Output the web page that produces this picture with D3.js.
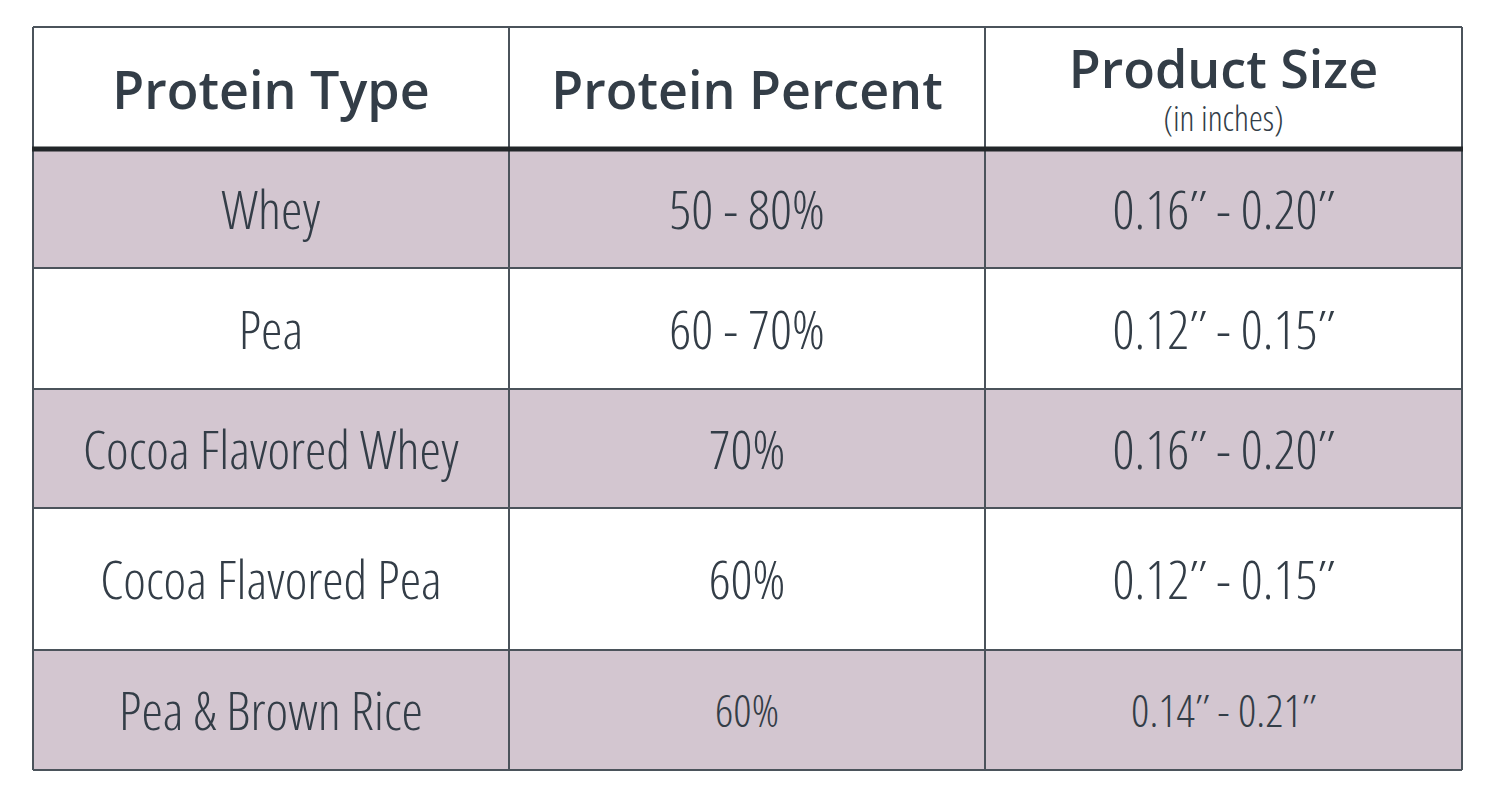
<!DOCTYPE html>
<html>
<head>
<meta charset="utf-8">
<script src="https://cdn.jsdelivr.net/npm/d3@7"></script>
<style>
  body { margin: 0; background: #fff; }
  svg text { font-family: "Open Sans", sans-serif; fill: #333d47; }
  .head { font-weight: 600; }
  .cell { font-weight: 300; font-stretch: condensed; }
</style>
</head>
<body>
<div id="chart"></div>
<script>
// ------------------------------------------------------------------ Data
var headers   = ['Protein Type', 'Protein Percent', 'Product Size'];
var subHeader = '(in inches)';
var types     = ['Whey', 'Pea', 'Cocoa Flavored Whey', 'Cocoa Flavored Pea', 'Pea & Brown Rice'];
var percents  = ['50 - 80%', '60 - 70%', '70%', '60%', '60%'];
var sizes     = ['0.16\u2033 - 0.20\u2033', '0.12\u2033 - 0.15\u2033', '0.16\u2033 - 0.20\u2033',
                 '0.12\u2033 - 0.15\u2033', '0.14\u2033 - 0.21\u2033'];
// ----------------------------------------------------------------- /Data

var width = 1506, height = 810;
var colEdges = [33, 509, 985, 1462];
var rowEdges = [27, 149, 268, 389, 508, 650, 770];

var svg = d3.select('#chart').append('svg')
    .attr('width', width)
    .attr('height', height);

var rows = types.map(function(t, i) {
  return {type: t, percent: percents[i], size: sizes[i], i: i};
});

// row background
svg.append('g').selectAll('rect')
    .data(rows)
  .enter().append('rect')
    .attr('x', colEdges[0])
    .attr('y', function(d) { return rowEdges[d.i + 1]; })
    .attr('width', colEdges[3] - colEdges[0])
    .attr('height', function(d) { return rowEdges[d.i + 2] - rowEdges[d.i + 1]; })
    .attr('fill', function(d) { return d.i % 2 == 0 ? '#d3c6d0' : '#fff'; });

// grid lines
var grid = svg.append('g')
    .attr('stroke', '#4b535b')
    .attr('stroke-width', 2);

grid.selectAll('.h')
    .data(rowEdges.filter(function(d, i) { return i != 1; }))
  .enter().append('line')
    .attr('x1', colEdges[0]).attr('x2', colEdges[3])
    .attr('y1', function(d) { return d; }).attr('y2', function(d) { return d; });

grid.selectAll('.v')
    .data(colEdges)
  .enter().append('line')
    .attr('y1', rowEdges[0]).attr('y2', rowEdges[rowEdges.length - 1])
    .attr('x1', function(d) { return d; }).attr('x2', function(d) { return d; });

svg.append('line')
    .attr('x1', colEdges[0] - 1).attr('x2', colEdges[3] + 1)
    .attr('y1', rowEdges[1]).attr('y2', rowEdges[1])
    .attr('stroke', '#222629')
    .attr('stroke-width', 5);

function colMid(c) { return (colEdges[c] + colEdges[c + 1]) / 2; }
function rowMid(r) { return (rowEdges[r] + rowEdges[r + 1]) / 2; }

// header
var head = svg.append('g').attr('class', 'head');
head.selectAll('text')
    .data(headers)
  .enter().append('text')
    .attr('x', function(d, i) { return colMid(i); })
    .attr('y', function(d, i) { return i == 2 ? 88 : 109; })
    .attr('text-anchor', 'middle')
    .style('font-size', '52px')
    .text(function(d) { return d; });

svg.append('text')
    .attr('class', 'cell')
    .attr('x', colMid(2))
    .attr('y', 131)
    .attr('text-anchor', 'middle')
    .style('font-size', '35px')
    .text(subHeader);

// body cells
var cells = svg.append('g').selectAll('g')
    .data(rows)
  .enter().append('g');

['type', 'percent', 'size'].forEach(function(key, c) {
  cells.append('text')
      .attr('class', 'cell')
      .attr('x', colMid(c))
      .attr('y', function(d) { return rowMid(d.i + 1) + (d.i == 4 && c > 0 ? 17 : 20); })
      .attr('text-anchor', 'middle')
      .style('font-size', function(d) { return d.i == 4 && c > 0 ? '45px' : '54px'; })
      .text(function(d) { return d[key]; });
});
</script>
</body>
</html>
